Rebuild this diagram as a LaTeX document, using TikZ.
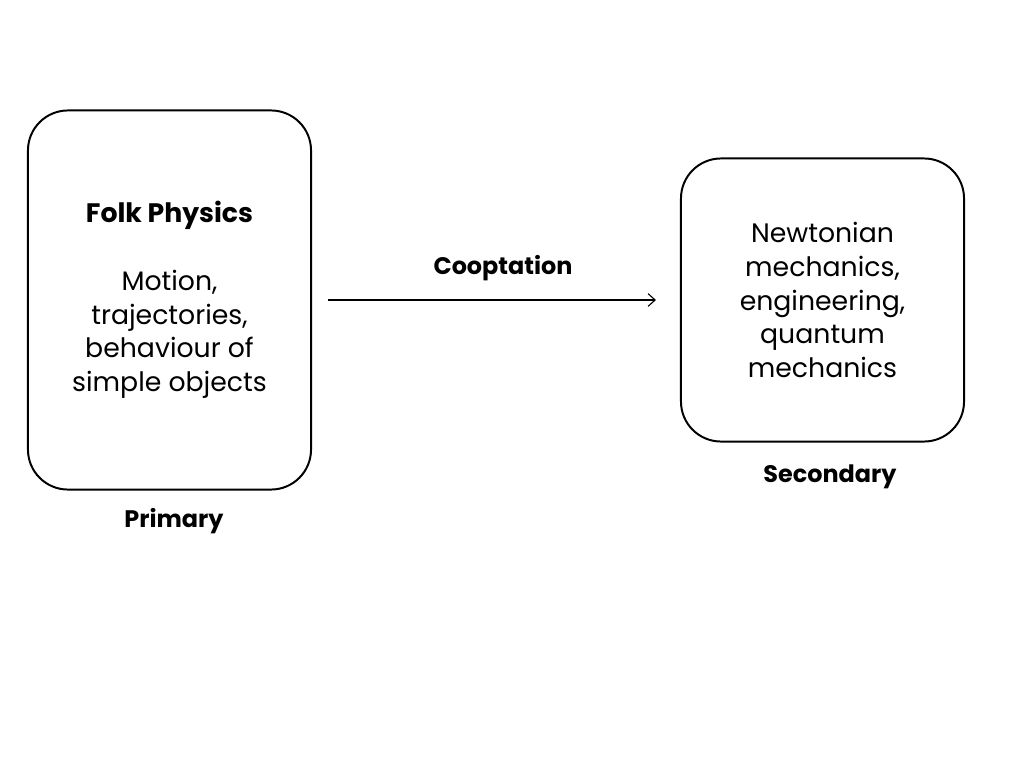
\documentclass[tikz,border=0pt]{standalone}
\usepackage{fontspec}
\setmainfont{Poppins}
\usepackage{tikz}
\usetikzlibrary{arrows.meta}

\tikzset{
	field/.style = {rectangle, draw, line width = 1.4pt, rounded corners = 1cm,
		minimum width = 7.075cm, align = center, font = \fontsize{19}{24}\selectfont},
	tag/.style = {font = \fontsize{17}{20}\selectfont\bfseries}
}

\begin{document}
\begin{tikzpicture}[x = 0.025cm, y = -0.025cm]

\useasboundingbox (0,0) rectangle (1024,768);

%% Primary box

\node[field, minimum height = 9.475cm] (folk) at (169.5, 300)
	{\textbf{Folk Physics}\\[24pt] Motion,\\ trajectories,\\ behaviour of\\ simple objects};

\node[tag] (primary) at (174, 521) {Primary};

%% Secondary box

\node[field, minimum height = 7.075cm] (newton) at (822.5, 300)
	{Newtonian\\ mechanics,\\ engineering,\\ quantum\\ mechanics};

\node[tag] (secondary) at (830, 477) {Secondary};

%% Cooptation

\draw[-{Straight Barb[length = 5pt, width = 9pt]}, line width = 0.8pt,
	shorten <= 0.4cm, shorten >= 0.6cm] (folk) -- (newton);

\node[tag] (coopt) at (503, 268) {Cooptation};

\end{tikzpicture}
\end{document}
